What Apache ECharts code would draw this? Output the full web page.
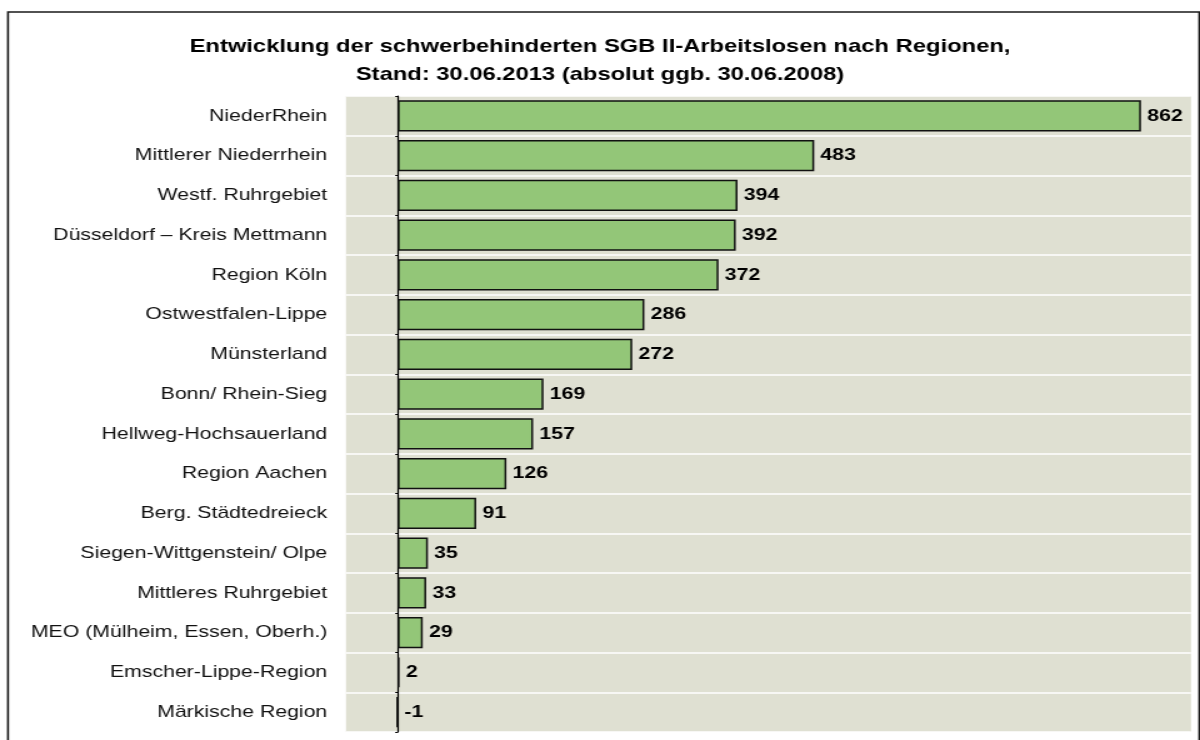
<!DOCTYPE html>
<html>
<head>
<meta charset="utf-8">
<script src="https://cdn.jsdelivr.net/npm/echarts@6/dist/echarts.min.js"></script>
<style>
  html, body { margin: 0; padding: 0; background: #ffffff; overflow: hidden; }
  /* chart is laid out at 960px and widened to fill the 1200px page */
  #wrap { width: 960px; height: 740px; transform: scaleX(1.25); transform-origin: 0 0; }
</style>
</head>
<body>
<div id="wrap"></div>
<script>
// Regions, top to bottom
const regions = [
  'NiederRhein',
  'Mittlerer Niederrhein',
  'Westf. Ruhrgebiet',
  'Düsseldorf – Kreis Mettmann',
  'Region Köln',
  'Ostwestfalen-Lippe',
  'Münsterland',
  'Bonn/ Rhein-Sieg',
  'Hellweg-Hochsauerland',
  'Region Aachen',
  'Berg. Städtedreieck',
  'Siegen-Wittgenstein/ Olpe',
  'Mittleres Ruhrgebiet',
  'MEO (Mülheim, Essen, Oberh.)',
  'Emscher-Lippe-Region',
  'Märkische Region'
];

// Change of severely disabled SGB II unemployed, 30.06.2013 vs. 30.06.2008 (absolute)
const changes = [862, 483, 394, 392, 372, 286, 272, 169, 157, 126, 91, 35, 33, 29, 2, -1];

const titleLines = [
  'Entwicklung der schwerbehinderten SGB II-Arbeitslosen nach Regionen,',
  'Stand: 30.06.2013 (absolut ggb. 30.06.2008)'
];

const FONT = '"Liberation Sans", Arial, Helvetica, sans-serif';

const chart = echarts.init(document.getElementById('wrap'), null, { renderer: 'canvas' });

chart.setOption({
  animation: false,
  backgroundColor: '#ffffff',
  title: {
    text: titleLines.join('\n'),
    left: 'center',
    top: 28,
    textStyle: {
      fontFamily: FONT,
      fontSize: 19,
      fontWeight: 'bold',
      color: '#000000',
      lineHeight: 28,
      align: 'center'
    }
  },
  graphic: [{
    type: 'rect',
    shape: { x: 6.4, y: 12, width: 953, height: 760 },
    style: { fill: 'none', stroke: '#1a1a1a', lineWidth: 1.6 },
    silent: true,
    z: 0
  }],
  grid: {
    left: 276.8,
    right: 7.2,
    top: 96,
    bottom: 8,
    containLabel: false,
    show: true,
    backgroundColor: '#dfe0d2',
    borderWidth: 0
  },
  xAxis: {
    type: 'value',
    min: -60,
    max: 920,
    show: true,
    axisLine: { show: false },
    axisTick: { show: false },
    axisLabel: { show: false },
    splitLine: { show: false }
  },
  yAxis: {
    type: 'category',
    data: regions,
    inverse: true,
    axisLine: { show: true, onZero: true, lineStyle: { color: '#000000', width: 1.2 } },
    axisTick: { show: true, length: 2, lineStyle: { color: '#000000' } },
    axisLabel: {
      fontFamily: FONT,
      fontSize: 17,
      color: '#111111',
      margin: 15
    },
    splitLine: { show: true, lineStyle: { color: '#ffffff', width: 1.5 } }
  },
  series: [{
    type: 'bar',
    data: changes,
    barCategoryGap: '22%',
    itemStyle: {
      color: '#93c678',
      borderColor: '#111111',
      borderWidth: 1.5
    },
    label: {
      show: true,
      position: 'right',
      distance: 5,
      fontFamily: FONT,
      fontSize: 17,
      fontWeight: 'bold',
      color: '#000000'
    }
  }]
});
</script>
</body>
</html>
